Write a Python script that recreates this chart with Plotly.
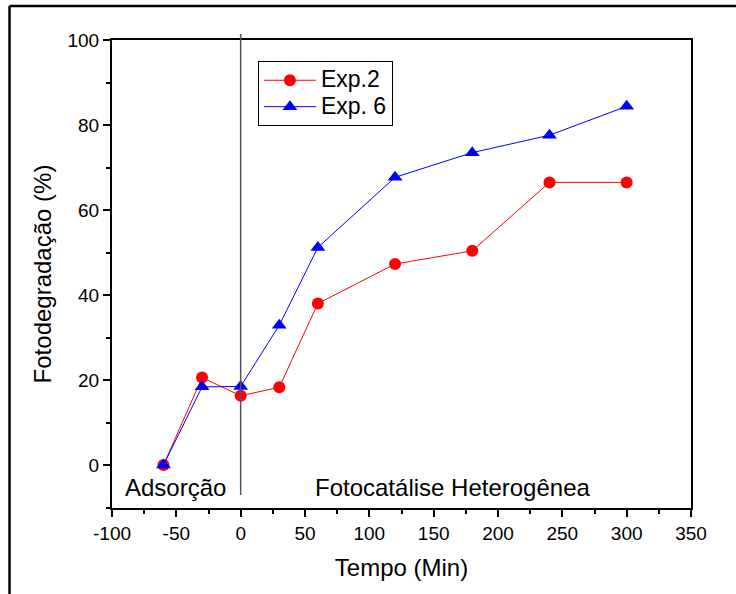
import plotly.graph_objects as go

tempo = [-60, -30, 0, 30, 60, 120, 180, 240, 300]
exp2 = [0, 20.6, 16.3, 18.3, 38.0, 47.3, 50.4, 66.5, 66.5]
exp6 = [0, 18.4, 18.5, 32.9, 51.2, 67.7, 73.5, 77.6, 84.4]
x_ticks = [-100, -50, 0, 50, 100, 150, 200, 250, 300, 350]
x_ticktext = ["-100", "-50", "0", "50", "100", "150", "200", "250", "300", "350"]
y_ticks = [0, 20, 40, 60, 80, 100]
series_names = ["Exp.2", "Exp. 6"]

FONT = "Liberation Sans, Arial, sans-serif"


def legend_label(name):
    return "<span style='font-size:23px'>" + name + "</span>"


fig = go.Figure()
fig.add_trace(go.Scatter(
    x=tempo, y=exp2, name=legend_label(series_names[0]), mode="lines+markers",
    line=dict(color="#ff0000", width=1),
    marker=dict(symbol="circle", size=12, color="#ff0000"),
))
fig.add_trace(go.Scatter(
    x=tempo, y=exp6, name=legend_label(series_names[1]), mode="lines+markers",
    line=dict(color="#0000ff", width=1),
    marker=dict(symbol="triangle-up", size=13, color="#0000ff"),
))

axis_common = dict(
    showline=True, linecolor="black", linewidth=2, mirror=True,
    ticks="outside", ticklen=7, tickwidth=2, tickcolor="black",
    showgrid=False, zeroline=False, automargin=False,
    tickfont=dict(family=FONT, size=19, color="black"),
)

fig.update_xaxes(
    range=[-100, 350], tickvals=x_ticks, ticktext=x_ticktext,
    minor=dict(ticks="outside", ticklen=4, tickwidth=2, tickcolor="black", dtick=25, tick0=0),
    title=dict(text="Tempo (Min)", font=dict(family=FONT, size=24, color="black"), standoff=16),
    **axis_common,
)
fig.update_yaxes(
    range=[-10.1, 100], tickvals=y_ticks,
    minor=dict(ticks="outside", ticklen=4, tickwidth=2, tickcolor="black", dtick=10, tick0=0),
    title=dict(text="Fotodegradação (%)", font=dict(family=FONT, size=24, color="black"), standoff=9),
    **axis_common,
)

fig.add_shape(type="line", xref="x", yref="paper", x0=0, x1=0, y0=0.028, y1=1.013,
              line=dict(color="#555555", width=1.5))
# outer figure frame (top and left edges visible)
fig.add_shape(type="line", xref="paper", yref="paper", x0=-0.177, x1=1.2, y0=1.0726, y1=1.0726,
              line=dict(color="black", width=2.5))
fig.add_shape(type="line", xref="paper", yref="paper", x0=-0.177, x1=-0.177, y0=-0.3, y1=1.0726,
              line=dict(color="black", width=2.5))

fig.add_annotation(x=-51, y=-5.2, text="Adsorção", showarrow=False,
                   font=dict(family=FONT, size=24, color="black"))
fig.add_annotation(x=165, y=-5.2, text="Fotocatálise Heterogênea", showarrow=False,
                   font=dict(family=FONT, size=24, color="black"))

fig.update_layout(
    width=736, height=594,
    margin=dict(l=112, r=45, t=40, b=86),
    paper_bgcolor="white", plot_bgcolor="white",
    showlegend=True,
    legend=dict(x=0.252, y=0.955, xanchor="left", yanchor="top",
                bordercolor="black", borderwidth=1, bgcolor="white",
                font=dict(family=FONT, size=18, color="black"),
                tracegroupgap=0, itemwidth=52),
    font=dict(family=FONT),
)

fig.write_html("out.html", config={"displayModeBar": False},
               post_script="document.body.style.margin='0';")
